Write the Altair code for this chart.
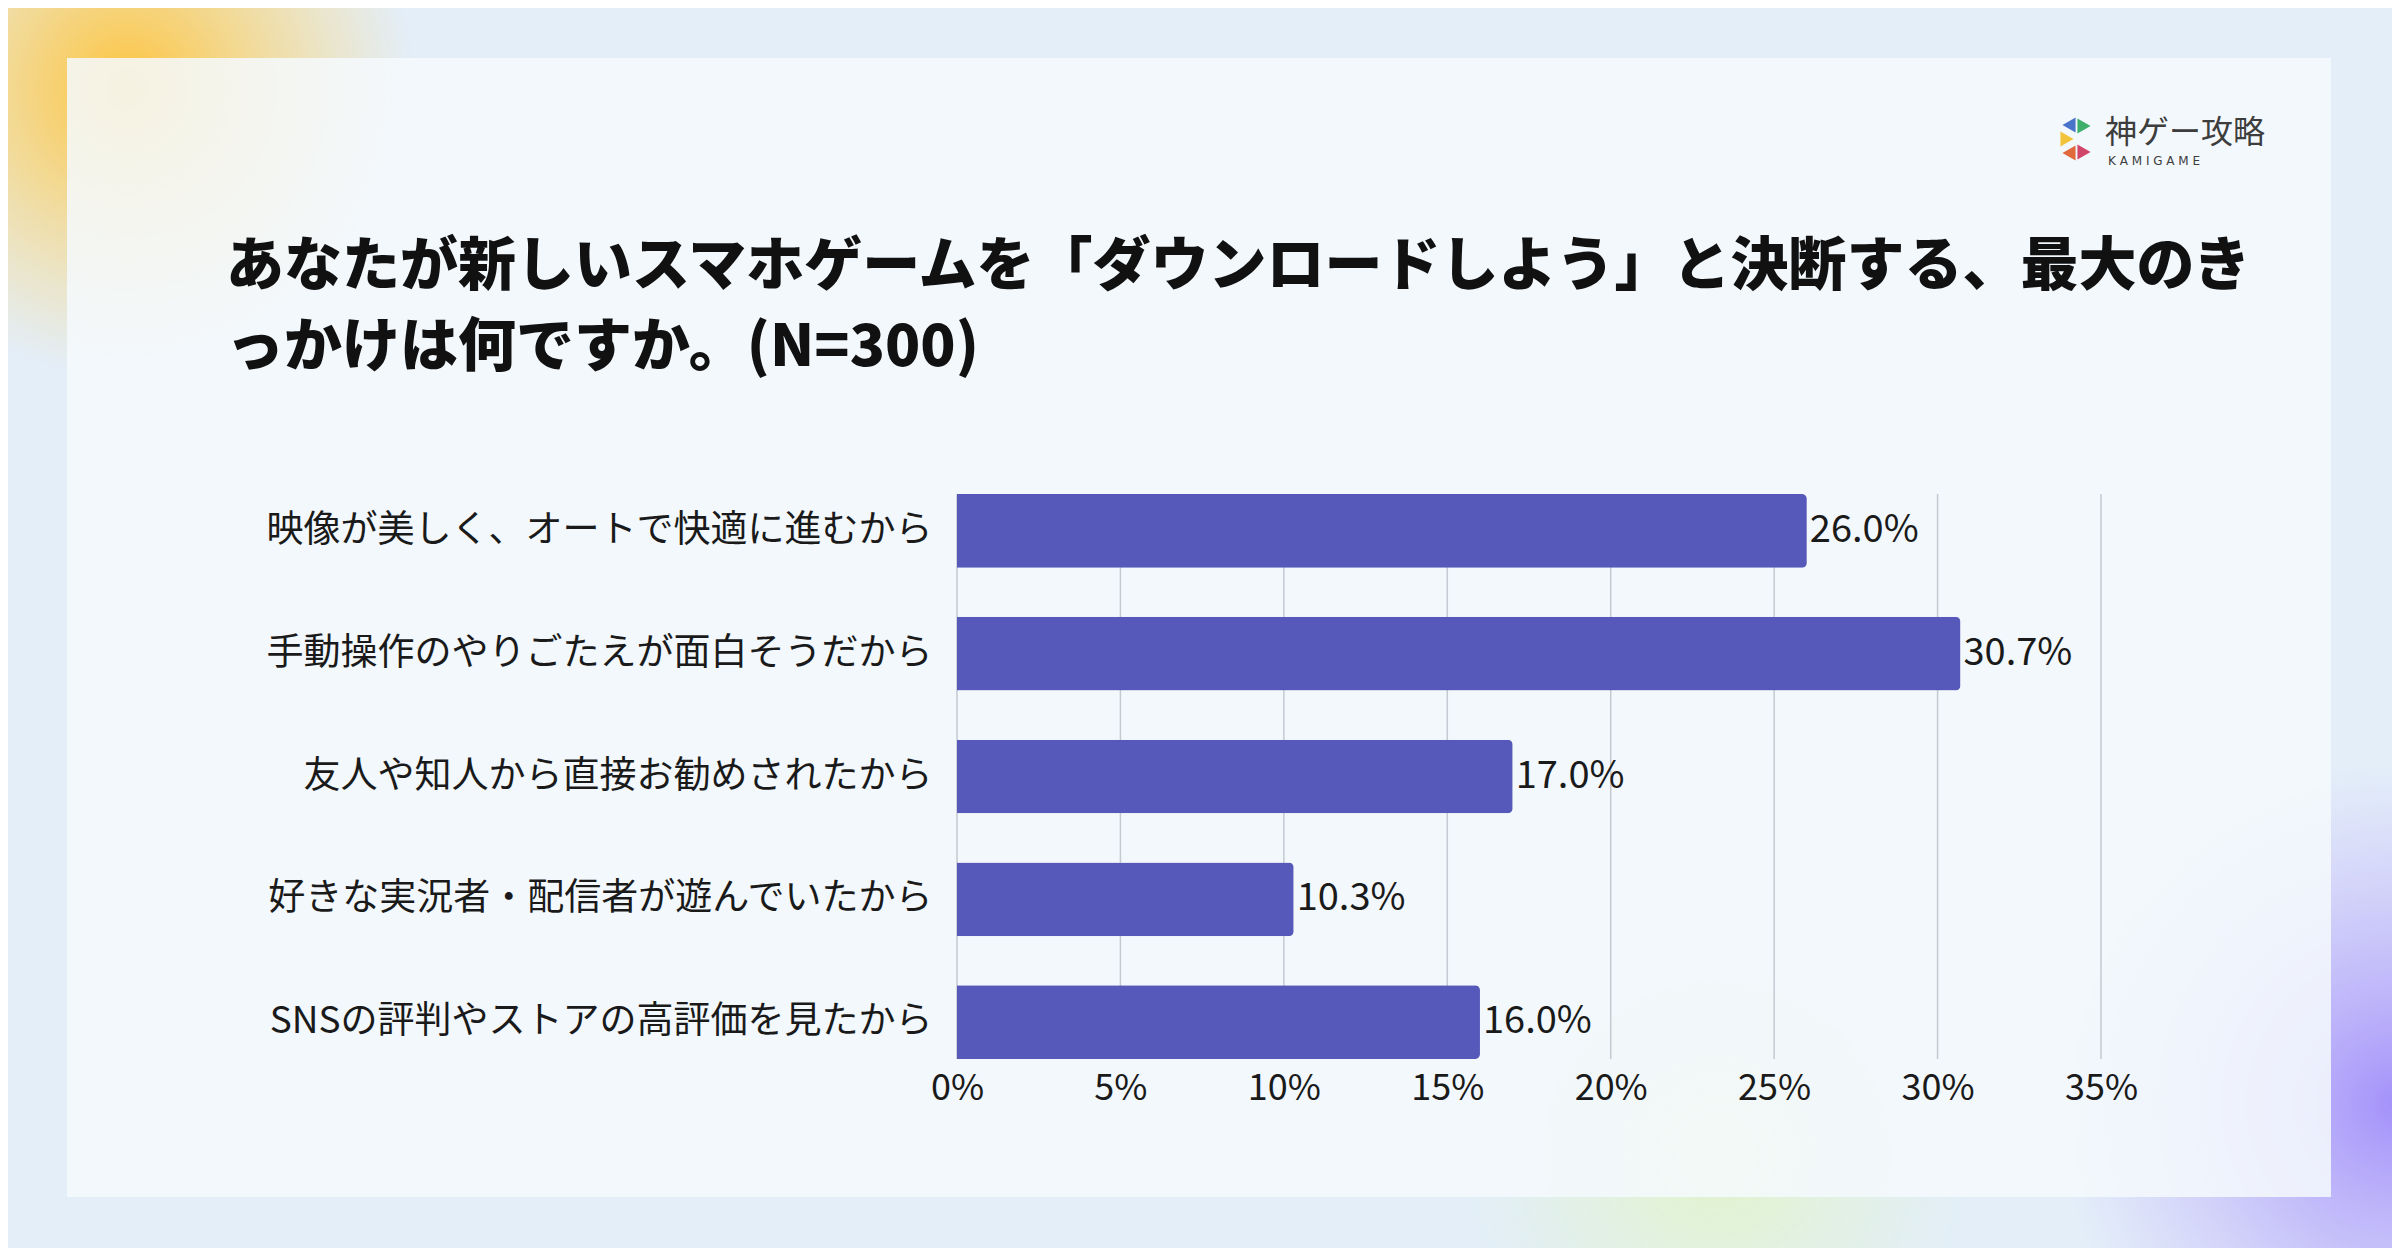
import altair as alt
import pandas as pd

categories = [
    "映像が美しく、オートで快適に進むから",
    "手動操作のやりごたえが面白そうだから",
    "友人や知人から直接お勧めされたから",
    "好きな実況者・配信者が遊んでいたから",
    "SNSの評判やストアの高評価を見たから",
]
values = [26.0, 30.7, 17.0, 10.3, 16.0]
tick_values = [0, 5, 10, 15, 20, 25, 30, 35]
title_lines = [
    "あなたが新しいスマホゲームを「ダウンロードしよう」と決断する、最大のき",
    "っかけは何ですか。(N=300)",
]
logo_text = "神ゲー攻略"
logo_sub = "K   A   M   I   G   A   M   E"

FONT = "Noto Sans CJK JP"
W, H = 1144, 565

df = pd.DataFrame({"category": categories, "value": values})
df["label"] = [f"{v:.1f}%" for v in values]
ticks_df = pd.DataFrame({"value": tick_values})
one = pd.DataFrame({"k": [0]})


def blob(cx, cy, d, color_in, color_out):
    return alt.Chart(one).mark_point(
        shape="circle",
        size=d * d,
        filled=True,
        strokeWidth=0,
        color=alt.Gradient(
            gradient="radial",
            stops=[
                alt.GradientStop(color=color_in, offset=0),
                alt.GradientStop(color=color_out, offset=1),
            ],
        ),
        opacity=1,
    ).encode(x=alt.value(cx), y=alt.value(cy))


blobs = [
    blob(-830, -405, 580, "rgba(255,193,50,0.95)", "rgba(255,210,90,0)"),
    blob(1440, 610, 680, "rgba(160,140,250,0.95)", "rgba(190,170,250,0)"),
    blob(760, 660, 520, "rgba(225,245,190,0.8)", "rgba(225,245,200,0)"),
]

card = alt.Chart(one).mark_rect(
    color="rgba(245,249,253,0.86)"
).encode(
    x=alt.value(-890), x2=alt.value(1374), y=alt.value(-436), y2=alt.value(703)
)

xscale = alt.Scale(domain=[0, 35], nice=False)

grid = alt.Chart(ticks_df).mark_rule(color="#C4CAD2", strokeWidth=1.5).encode(
    x=alt.X("value:Q", scale=xscale)
)

ycat = alt.Y(
    "category:N",
    sort=None,
    scale=alt.Scale(paddingInner=0.4, paddingOuter=0),
    axis=alt.Axis(
        title=None,
        ticks=False,
        domain=False,
        labelFont=FONT,
        labelFontSize=37,
        labelColor="#1a1a1a",
        labelPadding=25,
        labelLimit=0,
        zindex=1,
    ),
)

xval = alt.X(
    "value:Q",
    scale=xscale,
    axis=alt.Axis(
        title=None,
        values=tick_values,
        labelExpr="datum.value + '%'",
        ticks=False,
        domain=False,
        grid=False,
        labelFlush=False,
        labelFont=FONT,
        labelFontSize=36,
        labelColor="#1a1a1a",
        labelPadding=12,
        zindex=1,
    ),
)

bars = alt.Chart(df).mark_bar(color="#5659B9", cornerRadiusEnd=5).encode(
    x=xval, y=ycat
)

labels = alt.Chart(df).mark_text(
    align="left", baseline="middle", dx=3, font=FONT, fontSize=38, color="#1a1a1a"
).encode(
    x=alt.X("value:Q"), y=alt.Y("category:N", sort=None), text="label:N"
)

title1 = alt.Chart(one).mark_text(
    align="left", baseline="middle", font=FONT, fontSize=58, fontWeight=900, color="#111111"
).encode(x=alt.value(-731), y=alt.value(-226), text=alt.value(title_lines[0]))

title2 = alt.Chart(one).mark_text(
    align="left", baseline="middle", font=FONT, fontSize=58, fontWeight=900, color="#111111"
).encode(x=alt.value(-731), y=alt.value(-145), text=alt.value(title_lines[1]))

logo = alt.Chart(one).mark_text(
    align="left", baseline="middle", font=FONT, fontSize=32, color="#3d3d3d"
).encode(x=alt.value(1148), y=alt.value(-361), text=alt.value(logo_text))

logo2 = alt.Chart(one).mark_text(
    align="left", baseline="middle", font="DejaVu Sans", fontSize=12, color="#3d3d3d"
).encode(x=alt.value(1151), y=alt.value(-333), text=alt.value(logo_sub))


def tri(px, py, shape, col):
    return alt.Chart(one).mark_point(
        shape=shape, filled=True, size=230, opacity=1, strokeWidth=0, color=col
    ).encode(x=alt.value(px), y=alt.value(py))


icon = [
    tri(1112, -369, "triangle-left", "#4A74C9"),
    tri(1127, -368, "triangle-right", "#3DAE6B"),
    tri(1110, -355, "triangle-right", "#F2C23A"),
    tri(1112, -341, "triangle-left", "#E06A3B"),
    tri(1127, -342, "triangle-right", "#D2456B"),
]

chart = alt.layer(
    *blobs, card, grid, bars, labels, title1, title2, logo, logo2, *icon
).properties(
    width=W,
    height=H,
    background="#E3EEF9",
    padding={"left": 949, "top": 486, "right": 291, "bottom": 189},
    autosize=alt.AutoSizeParams(type="none"),
).configure_view(stroke=None)

chart.save("out.html", embed_options={"renderer": "svg", "actions": False})
